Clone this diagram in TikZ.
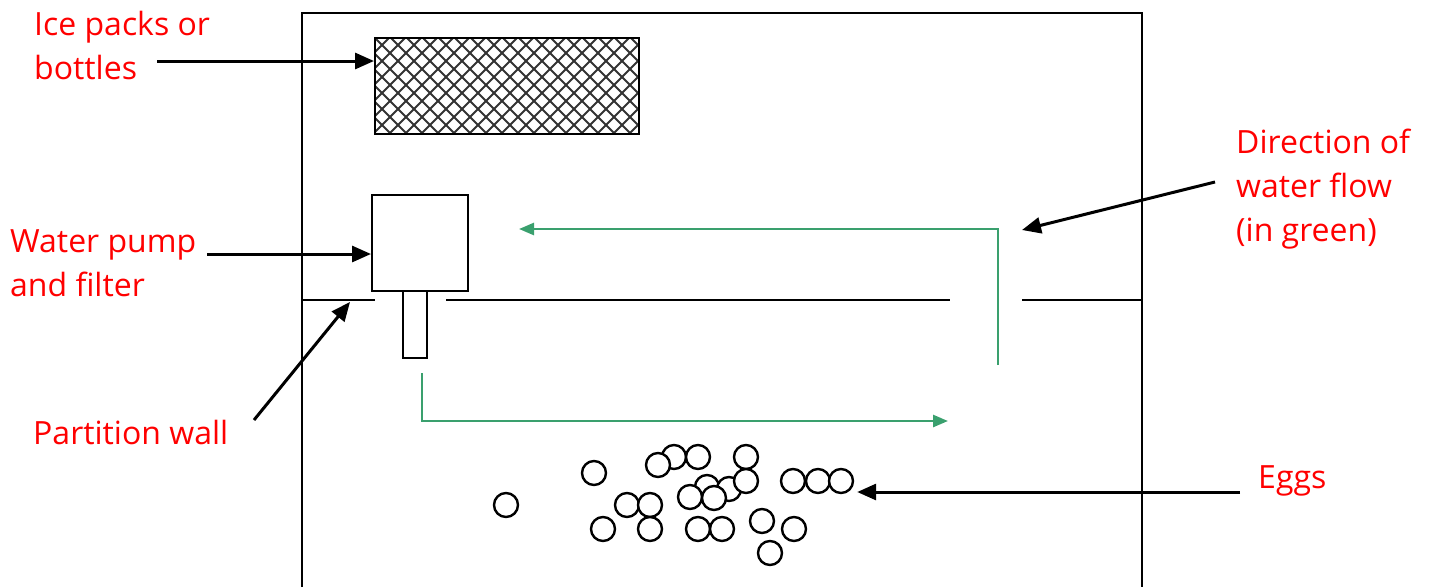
\documentclass[tikz,border=0pt]{standalone}
\usepackage{fontspec}
\setmainfont{Open Sans}
\usetikzlibrary{arrows.meta}
\definecolor{flowgreen}{RGB}{58,160,110}
\definecolor{labelred}{RGB}{255,0,0}
\tikzset{
  wall/.style={line width=2.6pt, black},
  part/.style={draw, line width=2.4pt, black, inner sep=0pt},
  egg/.style={draw, circle, line width=2.4pt, minimum size=24pt, inner sep=0pt},
  callout/.style={line width=3pt, -{Triangle[length=19pt,width=16pt]}},
  flow/.style={line width=2.6pt, flowgreen, -{Triangle[length=15pt,width=12pt]}},
  lbl/.style={text=labelred, font=\fontsize{32}{44}\selectfont, align=left, inner sep=0pt, anchor=west}
}
\begin{document}
\begin{tikzpicture}[x=1pt,y=-1pt]
\useasboundingbox (0,0) rectangle (1432,587);

% tank walls
\draw[wall] (302,587) -- (302,13) -- (1142,13) -- (1142,587);

% partition wall with openings
\draw[wall] (302,300) -- (375,300);
\draw[wall] (446,300) -- (950,300);
\draw[wall] (1022,300) -- (1142,300);

% ice packs (cross-hatched block)
\begin{scope}
  \clip (374,37) rectangle (638,133);
  \foreach \i in {-8,...,24} {
    \draw[line width=1.9pt, black!80] (374+\i*16,37) -- ++(96,96);
    \draw[line width=1.9pt, black!80] (374+\i*16,37) -- ++(-96,96);
  }
\end{scope}
\node[part, minimum width=264pt, minimum height=96pt, anchor=north west] (ice) at (374,37) {};

% pump, filter and its pipe
\node[part, minimum width=96pt, minimum height=96pt, anchor=north west] (pump) at (371,194) {};
\node[part, minimum width=24pt, minimum height=67pt, anchor=north] (pipe) at (415,290) {};

% water flow
\coordinate (up0) at (998,365);
\coordinate (up1) at (998,229);
\coordinate (upend) at (519,229);
\draw[flow] (up0) -- (up1) -- (upend);
\coordinate (lo0) at (422,373);
\coordinate (lo1) at (422,421);
\coordinate (loend) at (948,421);
\draw[flow] (lo0) -- (lo1) -- (loend);

% eggs
\foreach \n/\x/\y in {1/506/505, 2/594/473, 3/674/457, 4/658/465, 5/698/457, 6/746/457,
  7/707/487, 8/729/489, 9/746/481, 10/690/497, 11/714/498, 12/627/505, 13/650/505,
  14/603/529, 15/650/529, 16/698/529, 17/722/529, 18/762/521, 19/794/529, 20/770/553,
  21/793/481, 22/818/481, 23/841/481} {
  \node[egg, fill=white] (egg\n) at (\x,\y) {};
}

% labels
\node[lbl] (lice) at (34,45) {Ice packs or\\bottles};
\node[lbl] (lpump) at (10,263) {Water pump\\and filter};
\node[lbl] (lwall) at (33,432) {Partition wall};
\node[lbl] (lflow) at (1236,189) {Direction of\\water flow\\(in green)};
\node[lbl] (leggs) at (1258,481) {Eggs};

% callout arrows
\coordinate (cice) at (157,61);
\coordinate (cpump) at (207,254);
\coordinate (cwall) at (254,420);
\coordinate (twall) at (350,302);
\coordinate (cflow) at (1215,182);
\coordinate (tflow) at (1022,230);
\coordinate (ceggs) at (1240,492);
\draw[callout] (cice) -- (ice.west |- cice);
\draw[callout] (cpump) -- (pump.west |- cpump);
\draw[callout] (cwall) -- (twall);
\draw[callout] (cflow) -- (tflow);
\draw[callout] (ceggs) -- ([xshift=3pt]egg23.east |- ceggs);
\end{tikzpicture}
\end{document}
